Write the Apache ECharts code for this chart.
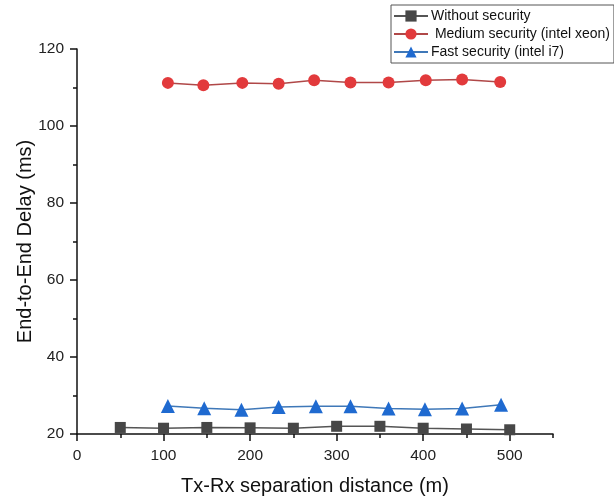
<!DOCTYPE html>
<html>
<head>
<meta charset="utf-8">
<script src="https://cdn.jsdelivr.net/npm/echarts@6/dist/echarts.min.js"></script>
<style>html,body{margin:0;padding:0;background:#fff;}#c{width:614px;height:500px;}</style>
</head>
<body>
<div id="c"></div>
<script>
const xWithout = [50, 100, 150, 200, 250, 300, 350, 400, 450, 500];
const yWithout = [21.7, 21.5, 21.7, 21.6, 21.5, 22.0, 22.0, 21.5, 21.3, 21.1];
const xMedium = [105, 146, 191, 233, 274, 316, 360, 403, 445, 489];
const yMedium = [111.2, 110.6, 111.2, 111.0, 111.9, 111.3, 111.3, 111.9, 112.1, 111.4];
const xFast = [105, 147, 190, 233, 276, 316, 360, 402, 445, 490];
const yFast = [27.3, 26.7, 26.3, 27.0, 27.2, 27.2, 26.6, 26.4, 26.6, 27.6];
const seriesNames = ['Without security', ' Medium security (intel xeon)', 'Fast security (intel i7)'];
const xMajorTicks = [0, 100, 200, 300, 400, 500];
const xMinorTicks = [50, 150, 250, 350, 450, 550];
const yMajorTicks = [20, 40, 60, 80, 100, 120];
const yMinorTicks = [30, 50, 70, 90, 110];

const pairs = (xs, ys) => xs.map((x, i) => [x, ys[i]]);
const font = 'Liberation Sans, Arial, sans-serif';
const chart = echarts.init(document.getElementById('c'));
chart.setOption({
  animation: false,
  backgroundColor: '#fff',
  grid: { left: 77, right: 61, top: 49, bottom: 66, containLabel: false, outerBoundsMode: 'none' },
  legend: {
    orient: 'vertical', left: 391, top: 5,
    padding: [4, 4, 4, 2], itemGap: 4, itemWidth: 34, itemHeight: 14,
    borderColor: '#555', borderWidth: 1, borderRadius: 0,
    textStyle: { fontFamily: font, fontSize: 14, color: '#111', padding: [0, 0, 0, -2] },
    data: seriesNames
  },
  xAxis: [{
    type: 'value', min: 0, max: 550, interval: 100,
    name: 'Tx-Rx separation distance (m)', nameLocation: 'middle', nameGap: 42,
    nameMoveOverlap: false,
    nameTextStyle: { fontFamily: font, fontSize: 20, color: '#111' },
    axisLine: { show: true, onZero: false, lineStyle: { color: '#111', width: 1.5 } },
    axisTick: { show: true, length: 7, customValues: xMajorTicks, lineStyle: { color: '#111', width: 1.5 } },
    axisLabel: { customValues: xMajorTicks, margin: 14, fontFamily: font, fontSize: 15.5, color: '#222' },
    splitLine: { show: false }
  }, {
    type: 'value', min: 0, max: 550, position: 'bottom',
    axisLine: { show: false },
    axisTick: { show: true, length: 4, customValues: xMinorTicks, lineStyle: { color: '#111', width: 1.5 } },
    axisLabel: { show: false }, splitLine: { show: false }
  }],
  yAxis: [{
    type: 'value', min: 20, max: 120, interval: 20,
    name: 'End-to-End Delay (ms)', nameLocation: 'middle', nameGap: 42,
    nameMoveOverlap: false,
    nameTextStyle: { fontFamily: font, fontSize: 20, color: '#111' },
    axisLine: { show: true, onZero: false, lineStyle: { color: '#111', width: 1.5 } },
    axisTick: { show: true, length: 7, customValues: yMajorTicks, lineStyle: { color: '#111', width: 1.5 } },
    axisLabel: { customValues: yMajorTicks, margin: 13, fontFamily: font, fontSize: 15.5, color: '#222' },
    splitLine: { show: false }
  }, {
    type: 'value', min: 20, max: 120, position: 'left',
    axisLine: { show: false },
    axisTick: { show: true, length: 4, customValues: yMinorTicks, lineStyle: { color: '#111', width: 1.5 } },
    axisLabel: { show: false }, splitLine: { show: false }
  }],
  series: [{
    name: seriesNames[0], type: 'line', data: pairs(xWithout, yWithout),
    symbol: 'rect', symbolSize: 11,
    itemStyle: { color: '#474747' },
    lineStyle: { color: '#555', width: 1.5 }
  }, {
    name: seriesNames[1], type: 'line', data: pairs(xMedium, yMedium),
    symbol: 'circle', symbolSize: 12,
    itemStyle: { color: '#e23a3c' },
    lineStyle: { color: '#b04848', width: 1.5 }
  }, {
    name: seriesNames[2], type: 'line', data: pairs(xFast, yFast),
    symbol: 'triangle', symbolSize: 14,
    itemStyle: { color: '#1f6ad0' },
    lineStyle: { color: '#3f78b8', width: 1.5 }
  }]
});
</script>
</body>
</html>
